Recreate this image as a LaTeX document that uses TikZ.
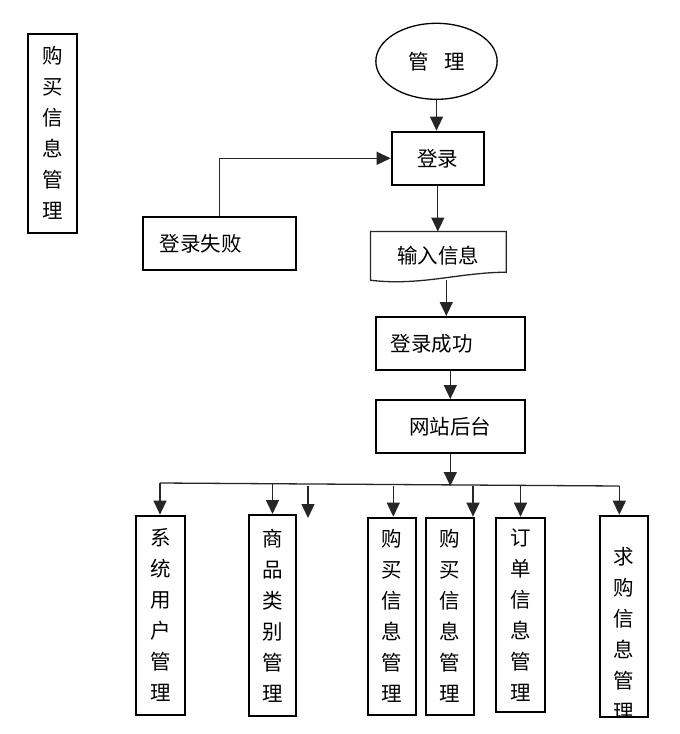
\documentclass[tikz,border=0pt]{standalone}
\usepackage{fontspec}
\newfontfamily\cjk{Noto Sans CJK SC}
\usetikzlibrary{arrows.meta,shapes.geometric}

\tikzset{
    txt/.style={font=\cjk\fontsize{20.5}{31}\selectfont},
    box/.style={txt, draw, line width=2pt, inner sep=0pt},
    vbox/.style={box, align=center},
    line/.style={draw=black!85, line width=1.3pt},
    arr/.style={line, -{Triangle[length=14pt,width=13pt]}}
}

\begin{document}
\begin{tikzpicture}[x=1pt,y=-1pt]
        \useasboundingbox (0,0) rectangle (680,734);

        \node[vbox, minimum width=49.6pt, minimum height=198.7pt] (buyinfo) at (52.5,133.3) {购\\买\\信\\息\\管\\理};

        \node[txt, ellipse, draw, line width=1.3pt, inner sep=0pt, minimum width=121.3pt, minimum height=76pt] (manage) at (436.5,61.3) {管\hspace{16pt}理};
        \node[box, minimum width=92.3pt, minimum height=53.3pt] (login) at (437.8,158.3) {登录};
        \node[box, text width=119.3pt, align=left, inner xsep=17pt, minimum height=53.3pt] (fail) at (219.3,243.3) {登录失败};
        \node[txt, inner sep=0pt, minimum width=135.3pt, minimum height=48.3pt] (input) at (438.3,255.9) {输入信息};
        \node[box, text width=119.3pt, align=left, inner xsep=15pt, minimum height=53pt] (success) at (450.3,343.5) {登录成功};
        \node[box, minimum width=149.3pt, minimum height=53.3pt] (backend) at (450.3,426.7) {网站后台};

        % outline of the input sheet
        \draw[line] (input.south west) -- (input.north west) -- (input.north east) -- ([yshift=8pt]input.south east)
            .. controls +(-46,0) and +(50,6) .. (input.south west) -- cycle;

        \node[vbox, minimum width=49.3pt, minimum height=199.3pt] (sysuser) at (160.3,615.3) {系\\统\\用\\户\\管\\理};
        \node[vbox, minimum width=47pt, minimum height=201pt] (category) at (272.5,615.5) {商\\品\\类\\别\\管\\理};
        \node[vbox, minimum width=48.3pt, minimum height=197.3pt] (buyA) at (391.8,616.3) {购\\买\\信\\息\\管\\理};
        \node[vbox, minimum width=48pt, minimum height=197.3pt] (buyB) at (450,616.3) {购\\买\\信\\息\\管\\理};
        \node[vbox, minimum width=49pt, minimum height=194pt] (order) at (520.5,614.7) {订\\单\\信\\息\\管\\理};
        \node[box, minimum width=47.7pt, minimum height=201pt] (seek) at (623.8,616.2) {};
        \begin{scope}
            \clip (seek.south west) rectangle (seek.north east);
            \node[txt, align=center, inner sep=0pt] (seektext) at (623.8,633.5) {求\\购\\信\\息\\管\\理};
        \end{scope}

        \draw[arr] (manage.south) -- (manage.south |- login.north);
        \draw[arr] (fail.north) |- (login.west);
        \draw[arr] (login.south) -- (login.south |- input.north);
        \coordinate (drop) at ([xshift=-4pt]success.north);
        \draw[arr] (drop |- input.south) -- (drop);
        \draw[arr] (success.south) -- (backend.north);

        \coordinate (busl) at (160,483);
        \coordinate (busr) at (619.3,486);
        \draw[line] (busl) -- (busr);
        \draw[arr] (backend.south) -- (backend.south |- busr);

        \draw[arr] (busl) -- (busl |- sysuser.north);
        \draw[arr] (category.north |- busl) -- (category.north);
        \coordinate (loose) at (308,518);
        \draw[arr] (loose |- busr) -- (loose);
        \draw[arr] ([xshift=1.5pt]buyA.north |- busr) -- ([xshift=1.5pt]buyA.north);
        \coordinate (buyBtip) at ([xshift=-2pt]buyB.north east);
        \draw[arr] (buyBtip |- busr) -- (buyBtip);
        \draw[arr] (order.north |- busr) -- (order.north);
        \draw[arr] (busr) -- (busr |- seek.north);
    \end{tikzpicture}
\end{document}
